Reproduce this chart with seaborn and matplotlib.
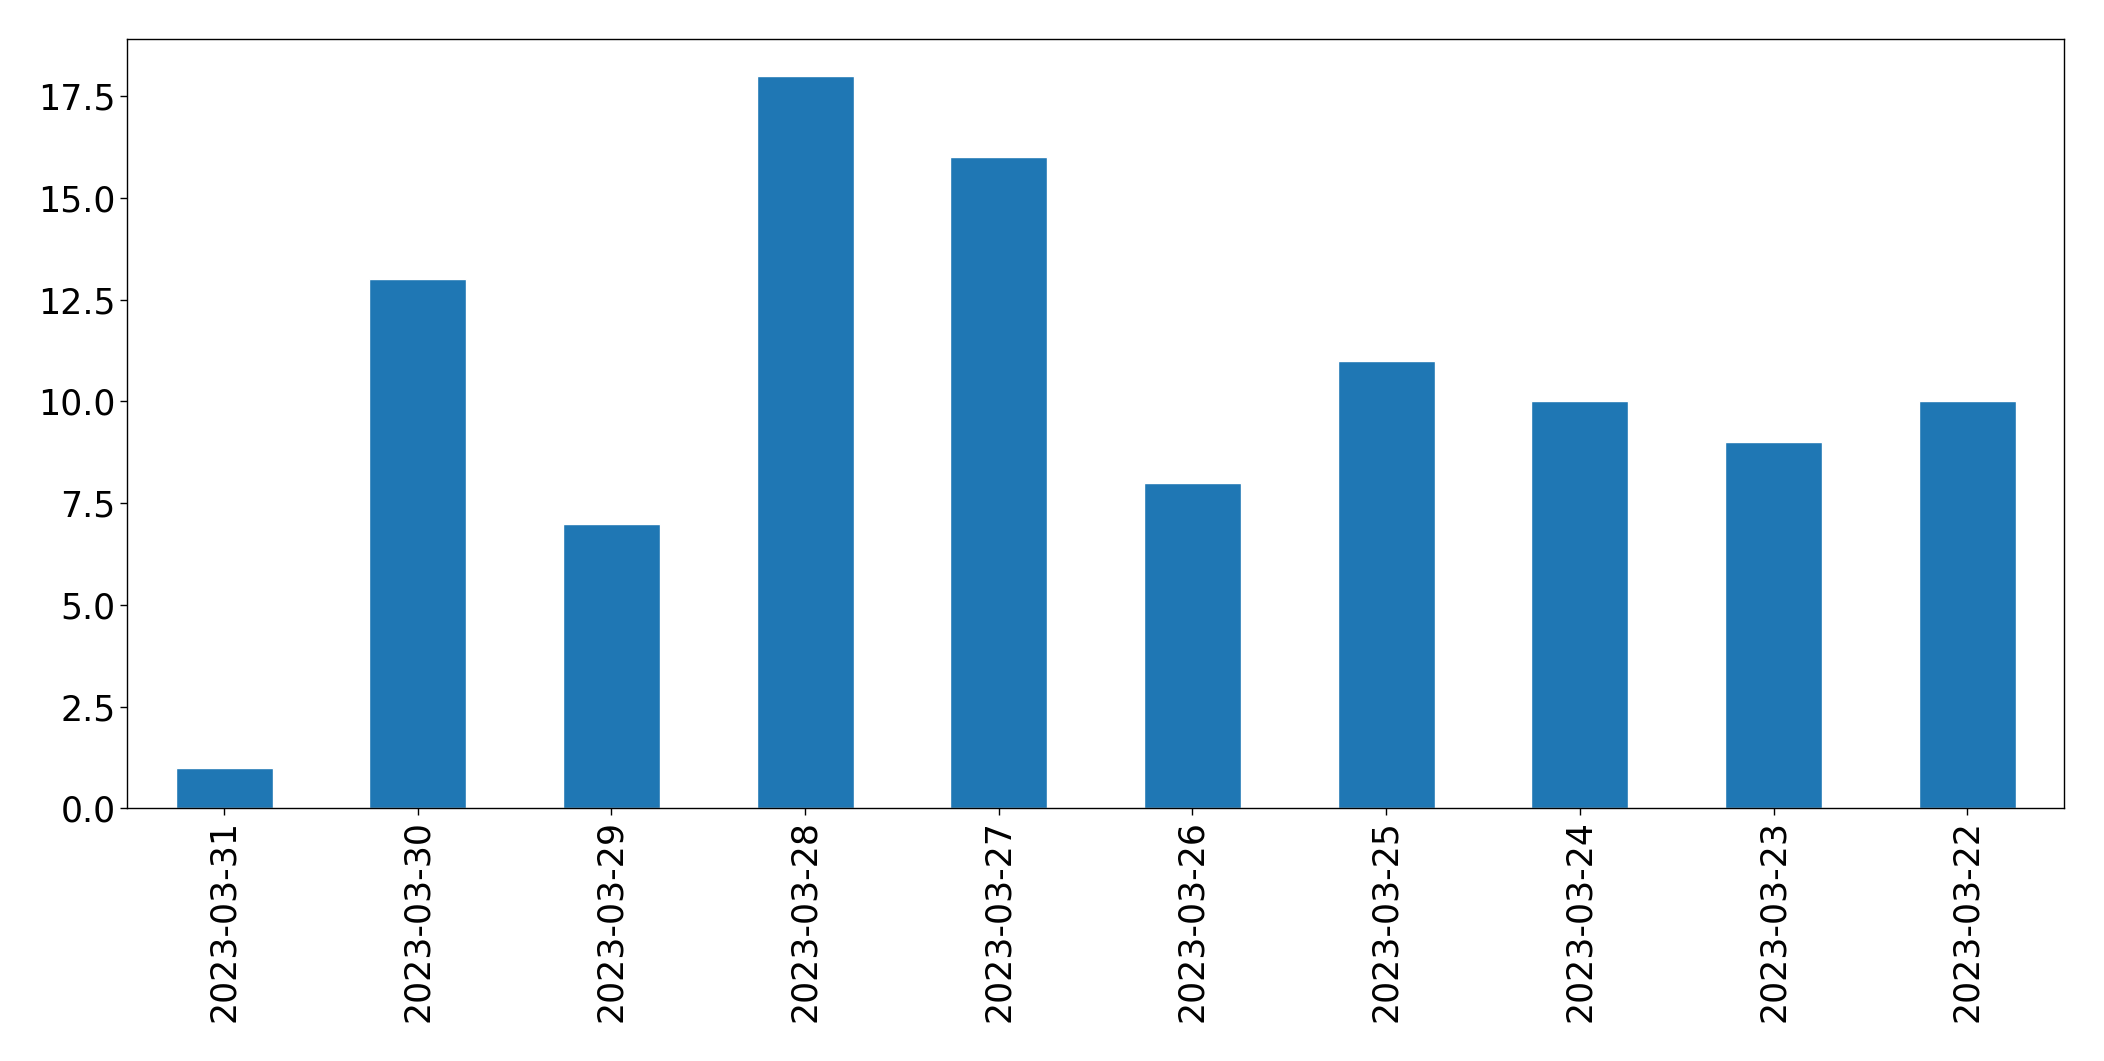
import matplotlib
matplotlib.use("Agg")
import matplotlib.pyplot as plt
import seaborn as sns

# Daily counts, newest first (as in the original)
dates = ['2023-03-31', '2023-03-30', '2023-03-29', '2023-03-28', '2023-03-27',
         '2023-03-26', '2023-03-25', '2023-03-24', '2023-03-23', '2023-03-22']
counts = [1, 13, 7, 18, 16, 8, 11, 10, 9, 10]

sns.set_style('ticks')
plt.rcParams['font.family'] = ['DejaVu Sans']
plt.rcParams['text.color'] = 'black'
plt.rcParams['xtick.color'] = 'black'
plt.rcParams['ytick.color'] = 'black'

fig, ax = plt.subplots(figsize=(21.04, 10.61), dpi=100)
fig.subplots_adjust(left=0.0605, right=0.981, top=0.963, bottom=0.238)

sns.barplot(x=dates, y=counts, ax=ax, color='#1f77b4', saturation=1, width=0.5)

ax.set_xlim(-0.5, len(dates) - 0.5)
ax.set_ylim(0, 18.9)
ax.set_yticks([0, 2.5, 5, 7.5, 10, 12.5, 15, 17.5])
ax.set_yticklabels(['0.0', '2.5', '5.0', '7.5', '10.0', '12.5', '15.0', '17.5'])
ax.tick_params(axis='both', labelsize=25, length=5, width=1,
               color='black', labelcolor='black')
ax.tick_params(axis='x', labelrotation=90)
for s in ax.spines.values():
    s.set_visible(True)
    s.set_color('black')
    s.set_linewidth(1)

fig.savefig('out.png', dpi=100)
